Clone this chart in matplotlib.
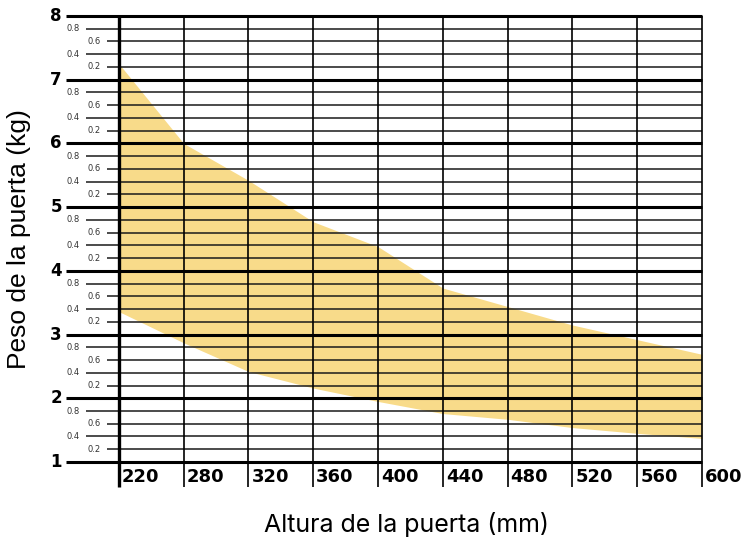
import matplotlib
from matplotlib import pyplot as plt
import matplotlib.transforms as mtransforms

matplotlib.rcParams['font.family'] = 'DejaVu Sans'

# datos
alturas = [220, 280, 320, 360, 400, 440, 480, 520, 560, 600]
peso_max = [7.25, 6.0, 5.42, 4.77, 4.38, 3.73, 3.44, 3.15, 2.92, 2.69]
peso_min = [3.36, 2.87, 2.42, 2.16, 1.95, 1.76, 1.67, 1.54, 1.45, 1.37]
y_mayores = [1, 2, 3, 4, 5, 6, 7, 8]
y_menores = [0.2, 0.4, 0.6, 0.8]

fig = plt.figure(figsize=(7.48, 5.38), dpi=100)
ax = fig.add_axes([0.159, 0.1413, 0.7794, 0.829])
pos = list(range(len(alturas)))

# banda de peso
ax.fill_between(pos, peso_min, peso_max, color='#F8DB8A', lw=0, zorder=1)
ax.set_xlim(0, len(alturas) - 1)
ax.set_ylim(y_mayores[0], y_mayores[-1])
ax.axis('off')

ytr = ax.get_yaxis_transform()
xtr = ax.get_xaxis_transform()

# líneas horizontales mayores
for v in y_mayores:
    ax.plot([-0.091, 1], [v, v], transform=ytr, color='black', lw=2.2,
            clip_on=False, solid_capstyle='butt', zorder=3)
    ax.text(-0.098, v, str(v), transform=ytr, ha='right', va='center',
            fontsize=12, fontweight='bold')

# líneas horizontales menores
for v in y_mayores[:-1]:
    for m in y_menores:
        corta = m in (0.2, 0.6)
        inicio = -0.0206 if corta else -0.0566
        pos_txt = -0.031 if corta else -0.067
        ax.plot([inicio, 1], [v + m, v + m], transform=ytr, color='#1a1a1a',
                lw=1.1, clip_on=False, solid_capstyle='butt', zorder=2)
        ax.text(pos_txt, v + m, f'{m:.1f}', transform=ytr, ha='right',
                va='center', fontsize=6, color='#333333')

# líneas verticales y etiquetas del eje x
off = mtransforms.ScaledTranslation(3 / 100, 0, fig.dpi_scale_trans)
for i, a in zip(pos, alturas):
    ax.plot([i, i], [-0.056, 1], transform=xtr, color='black',
            lw=2.4 if i == 0 else 1.2, clip_on=False,
            solid_capstyle='butt', zorder=3)
    ax.text(i, -0.034, str(a), transform=xtr + off, ha='left', va='center',
            fontsize=13, fontweight='bold')

fig.text(0.543, 0.0112, 'Altura de la puerta (mm)', ha='center',
         va='baseline', fontsize=18, family='Inter')
fig.text(0.026, 0.556, 'Peso de la puerta (kg)', ha='center', va='center',
         rotation=90, fontsize=19, family='Liberation Sans')

plt.savefig('out.png', dpi=100)
